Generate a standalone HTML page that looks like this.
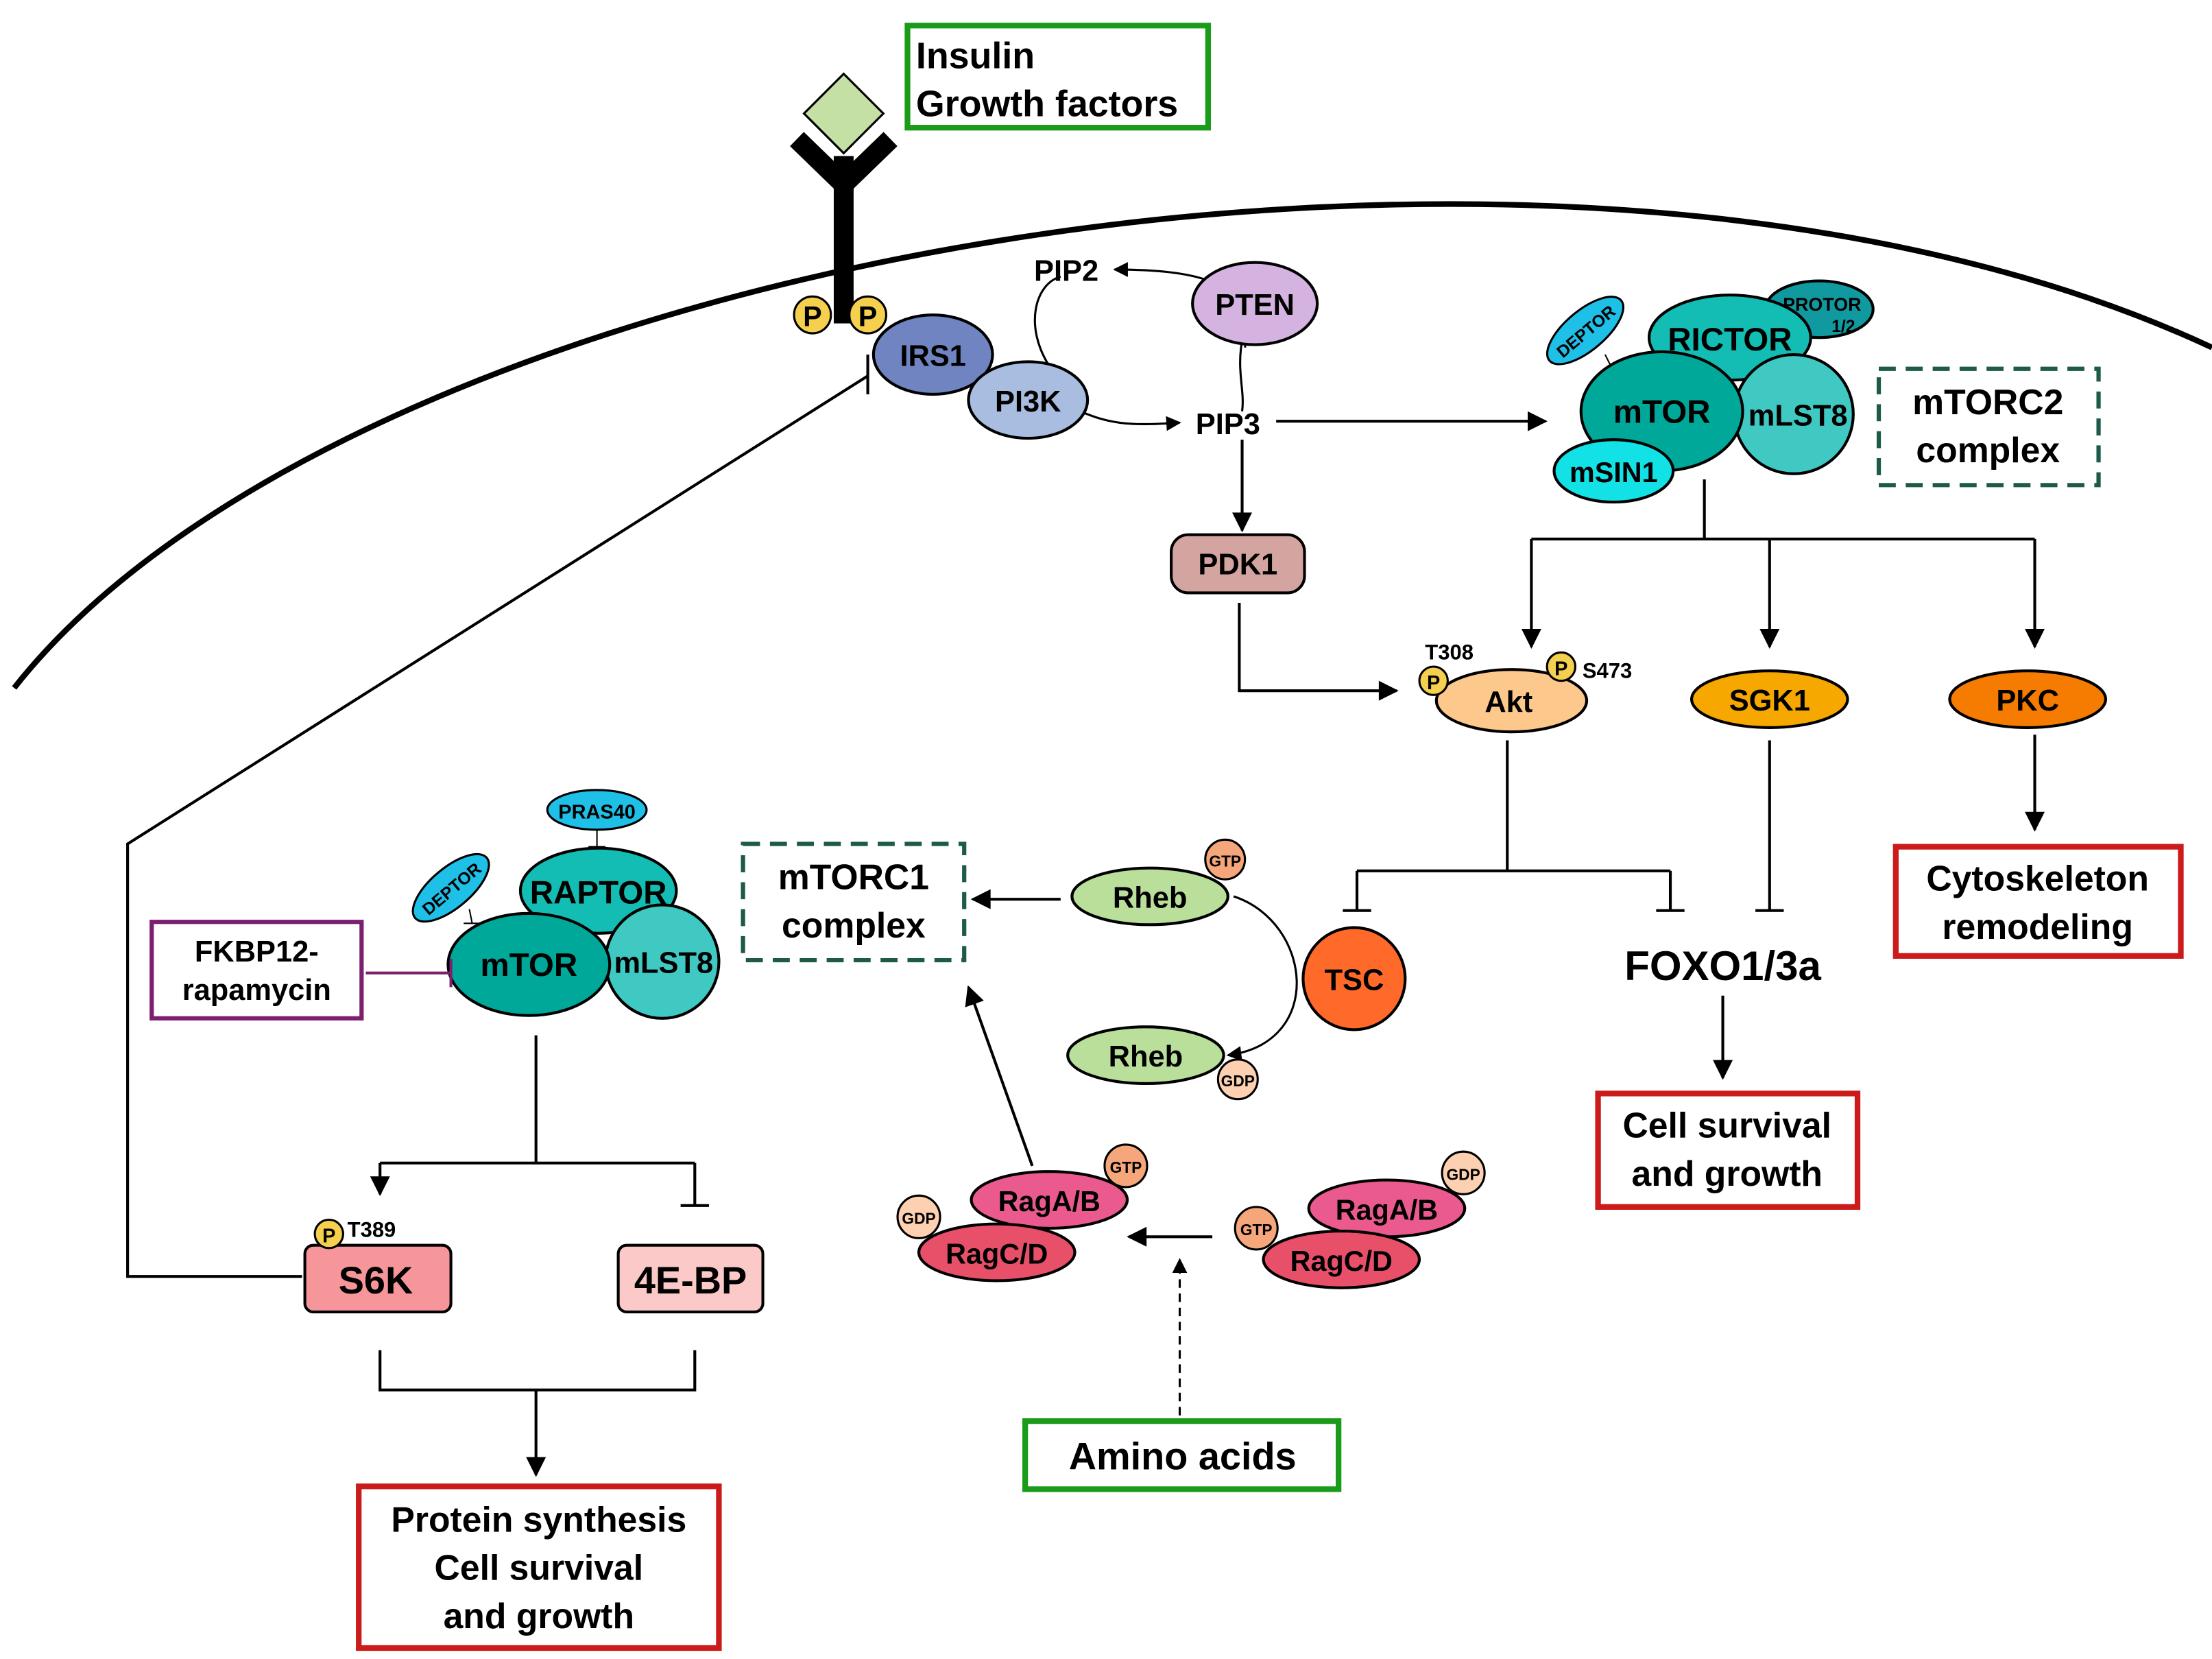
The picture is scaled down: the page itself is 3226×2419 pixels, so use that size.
<!DOCTYPE html>
<html><head><meta charset="utf-8"><style>
html,body{margin:0;padding:0;background:#fff}
svg{display:block}
text{font-family:"Liberation Sans",Arial,sans-serif;font-weight:bold;fill:#000}
</style></head><body>
<svg width="3226" height="2419" viewBox="0 0 1560 1169.7" xmlns="http://www.w3.org/2000/svg">
<defs>
<marker id="a" viewBox="0 0 10 10" refX="9" refY="5" markerWidth="7.5" markerHeight="7" orient="auto"><path d="M0,0 L10,5 L0,10 z" fill="#000"/></marker>
</defs>
<rect width="1560" height="1170" fill="#fff"/>
<path d="M10,485 C 250,180 1100,30 1560,245" fill="none" stroke="#000" stroke-width="4"/>
<rect x="588" y="110" width="14" height="118" fill="#000"/>
<path d="M595,130 L562,98 M595,130 L628,98" stroke="#000" stroke-width="14" fill="none"/>
<path d="M595,52 L623,80 L595,108 L567,80 z" fill="#c5e0a5" stroke="#000" stroke-width="1.5"/>
<circle cx="573" cy="222" r="13" fill="#f5d04f" stroke="#000" stroke-width="1.5"/><text x="573" y="230" font-size="20" text-anchor="middle">P</text>
<circle cx="612" cy="222" r="13" fill="#f5d04f" stroke="#000" stroke-width="1.5"/><text x="612" y="230" font-size="20" text-anchor="middle">P</text>
<rect x="640" y="18" width="212" height="72" fill="none" stroke="#1a9c1a" stroke-width="4"/>
<text x="646" y="48" font-size="26">Insulin</text><text x="646" y="82" font-size="26">Growth factors</text>
<path d="M740,258 C 722,230 730,200 748,195" fill="none" stroke="#000" stroke-width="1.5"/>
<path d="M878,245 C 885,205 860,190 786,190" fill="none" stroke="#000" stroke-width="1.5" marker-end="url(#a)"/>
<path d="M876,240 C 872,262 878,275 876,290" fill="none" stroke="#000" stroke-width="1.5"/>
<path d="M762,290 C 785,300 800,300 832,298" fill="none" stroke="#000" stroke-width="1.5" marker-end="url(#a)"/>
<ellipse cx="658" cy="250" rx="42" ry="28" fill="#6f84c0" stroke="#000" stroke-width="2"/><text x="658" y="258" font-size="21" text-anchor="middle">IRS1</text>
<ellipse cx="725" cy="282" rx="42" ry="27" fill="#a9bde0" stroke="#000" stroke-width="2"/><text x="725" y="290" font-size="21" text-anchor="middle">PI3K</text>
<ellipse cx="885" cy="214" rx="44" ry="29" fill="#d5b3e0" stroke="#000" stroke-width="2"/><text x="885" y="222" font-size="21" text-anchor="middle">PTEN</text>
<text x="752" y="198" font-size="21" text-anchor="middle">PIP2</text>
<text x="866" y="306" font-size="21" text-anchor="middle">PIP3</text>
<line x1="900" y1="297" x2="1090" y2="297" stroke="#000" stroke-width="2" marker-end="url(#a)"/>
<line x1="876" y1="310" x2="876" y2="374" stroke="#000" stroke-width="2" marker-end="url(#a)"/>
<rect x="826" y="377" width="94" height="41" rx="12" fill="#d4a5a0" stroke="#000" stroke-width="2"/><text x="873" y="405" font-size="21" text-anchor="middle">PDK1</text>
<path d="M874,425 L874,487 L985,487" fill="none" stroke="#000" stroke-width="2" marker-end="url(#a)"/>
<path d="M1202,338 L1202,380 M1080,380 L1435,380" stroke="#000" stroke-width="2" fill="none"/>
<line x1="1080" y1="380" x2="1080" y2="456" stroke="#000" stroke-width="2" marker-end="url(#a)"/>
<line x1="1248" y1="380" x2="1248" y2="456" stroke="#000" stroke-width="2" marker-end="url(#a)"/>
<line x1="1435" y1="380" x2="1435" y2="456" stroke="#000" stroke-width="2" marker-end="url(#a)"/>
<ellipse cx="1283" cy="218" rx="38" ry="20" fill="#1199a0" stroke="#000" stroke-width="2"/>
<text x="1285" y="219" font-size="13" text-anchor="middle">PROTOR</text><text x="1300" y="234" font-size="12" text-anchor="middle">1/2</text>
<ellipse cx="1220" cy="238" rx="57" ry="30" fill="#13bdb3" stroke="#000" stroke-width="2"/><text x="1220" y="247" font-size="23" text-anchor="middle">RICTOR</text>
<g transform="translate(1118,233) rotate(-40)"><ellipse rx="33" ry="14" fill="#1ec0e8" stroke="#000" stroke-width="1.5"/><text y="5" font-size="12" text-anchor="middle">DEPTOR</text></g>
<path d="M1132,250 L1138,262 M1132,262 L1144,258" stroke="#000" stroke-width="1"/>
<ellipse cx="1265" cy="292" rx="42" ry="42" fill="#40c8c2" stroke="#000" stroke-width="2"/>
<ellipse cx="1172" cy="290" rx="57" ry="42" fill="#00a89a" stroke="#000" stroke-width="2"/><text x="1172" y="298" font-size="23" text-anchor="middle">mTOR</text>
<text x="1268" y="300" font-size="21" text-anchor="middle">mLST8</text>
<ellipse cx="1138" cy="332" rx="42" ry="22" fill="#12e2e6" stroke="#000" stroke-width="2"/><text x="1138" y="340" font-size="20" text-anchor="middle">mSIN1</text>
<rect x="1325" y="260" width="155" height="82" fill="none" stroke="#1c5a4a" stroke-width="3" stroke-dasharray="12,7"/>
<text x="1402" y="292" font-size="25" text-anchor="middle">mTORC2</text><text x="1402" y="326" font-size="25" text-anchor="middle">complex</text>
<ellipse cx="1066" cy="494" rx="53" ry="22" fill="#fcc88c" stroke="#000" stroke-width="2"/><text x="1064" y="502" font-size="21" text-anchor="middle">Akt</text>
<circle cx="1011" cy="480" r="10" fill="#f5d04f" stroke="#000" stroke-width="1.5"/><text x="1011" y="486" font-size="14" text-anchor="middle">P</text>
<text x="1005" y="465" font-size="15">T308</text>
<circle cx="1101" cy="470" r="10" fill="#f5d04f" stroke="#000" stroke-width="1.5"/><text x="1101" y="476" font-size="14" text-anchor="middle">P</text>
<text x="1116" y="478" font-size="15">S473</text>
<ellipse cx="1248" cy="493" rx="55" ry="20" fill="#f7a800" stroke="#000" stroke-width="2"/><text x="1248" y="501" font-size="21" text-anchor="middle">SGK1</text>
<ellipse cx="1430" cy="493" rx="55" ry="20" fill="#f57c00" stroke="#000" stroke-width="2"/><text x="1430" y="501" font-size="21" text-anchor="middle">PKC</text>
<path d="M1063,522 L1063,614 M957,614 L1178,614 M957,614 L957,642 M1178,614 L1178,642 M947,642 L967,642 M1168,642 L1188,642" stroke="#000" stroke-width="2" fill="none"/>
<path d="M1248,522 L1248,642 M1238,642 L1258,642" stroke="#000" stroke-width="2" fill="none"/>
<line x1="1435" y1="518" x2="1435" y2="585" stroke="#000" stroke-width="2" marker-end="url(#a)"/>
<rect x="1337" y="597" width="201" height="77" fill="none" stroke="#cc1b1b" stroke-width="4"/>
<text x="1437" y="628" font-size="25" text-anchor="middle">Cytoskeleton</text><text x="1437" y="662" font-size="25" text-anchor="middle">remodeling</text>
<text x="1215" y="691" font-size="29" text-anchor="middle">FOXO1/3a</text>
<line x1="1215" y1="702" x2="1215" y2="760" stroke="#000" stroke-width="2" marker-end="url(#a)"/>
<rect x="1127" y="771" width="183" height="80" fill="none" stroke="#cc1b1b" stroke-width="4"/>
<text x="1218" y="802" font-size="25" text-anchor="middle">Cell survival</text><text x="1218" y="836" font-size="25" text-anchor="middle">and growth</text>
<path d="M870,632 C 925,650 935,735 866,744" fill="none" stroke="#000" stroke-width="1.5" marker-end="url(#a)"/>
<circle cx="955" cy="690" r="36" fill="#ff6a2a" stroke="#000" stroke-width="2"/><text x="955" y="698" font-size="21" text-anchor="middle">TSC</text>
<ellipse cx="811" cy="632" rx="55" ry="20" fill="#b9df9a" stroke="#000" stroke-width="2"/><text x="811" y="640" font-size="21" text-anchor="middle">Rheb</text>
<circle cx="864" cy="606" r="14" fill="#f5a67a" stroke="#000" stroke-width="1.5"/><text x="864" y="611" font-size="11" text-anchor="middle">GTP</text>
<ellipse cx="808" cy="744" rx="55" ry="20" fill="#b9df9a" stroke="#000" stroke-width="2"/><text x="808" y="752" font-size="21" text-anchor="middle">Rheb</text>
<circle cx="873" cy="761" r="14" fill="#fcd0b0" stroke="#000" stroke-width="1.5"/><text x="873" y="766" font-size="11" text-anchor="middle">GDP</text>
<line x1="748" y1="634" x2="686" y2="634" stroke="#000" stroke-width="2" marker-end="url(#a)"/>
<rect x="524" y="595" width="156" height="82" fill="none" stroke="#1c5a4a" stroke-width="3" stroke-dasharray="12,7"/>
<text x="602" y="627" font-size="25" text-anchor="middle">mTORC1</text><text x="602" y="661" font-size="25" text-anchor="middle">complex</text>
<line x1="728" y1="822" x2="683" y2="696" stroke="#000" stroke-width="2" marker-end="url(#a)"/>
<ellipse cx="740" cy="846" rx="55" ry="20" fill="#ea5a8e" stroke="#000" stroke-width="2"/><text x="740" y="854" font-size="20" text-anchor="middle">RagA/B</text>
<circle cx="794" cy="822" r="15" fill="#f5a67a" stroke="#000" stroke-width="1.5"/><text x="794" y="827" font-size="11" text-anchor="middle">GTP</text>
<circle cx="648" cy="858" r="15" fill="#fcd0b0" stroke="#000" stroke-width="1.5"/><text x="648" y="863" font-size="11" text-anchor="middle">GDP</text>
<ellipse cx="703" cy="883" rx="55" ry="20" fill="#e8506a" stroke="#000" stroke-width="2"/><text x="703" y="891" font-size="20" text-anchor="middle">RagC/D</text>
<ellipse cx="978" cy="852" rx="55" ry="20" fill="#ea5a8e" stroke="#000" stroke-width="2"/><text x="978" y="860" font-size="20" text-anchor="middle">RagA/B</text>
<circle cx="1032" cy="827" r="15" fill="#fcd0b0" stroke="#000" stroke-width="1.5"/><text x="1032" y="832" font-size="11" text-anchor="middle">GDP</text>
<circle cx="886" cy="866" r="15" fill="#f5a67a" stroke="#000" stroke-width="1.5"/><text x="886" y="871" font-size="11" text-anchor="middle">GTP</text>
<ellipse cx="946" cy="888" rx="55" ry="20" fill="#e8506a" stroke="#000" stroke-width="2"/><text x="946" y="896" font-size="20" text-anchor="middle">RagC/D</text>
<line x1="855" y1="872" x2="796" y2="872" stroke="#000" stroke-width="2" marker-end="url(#a)"/>
<line x1="832" y1="998" x2="832" y2="888" stroke="#000" stroke-width="1.5" stroke-dasharray="6,4" marker-end="url(#a)"/>
<rect x="723" y="1002" width="221" height="48" fill="none" stroke="#1a9c1a" stroke-width="4"/>
<text x="834" y="1036" font-size="27" text-anchor="middle">Amino acids</text>
<ellipse cx="421" cy="571" rx="35" ry="14" fill="#1ec0e8" stroke="#000" stroke-width="1.5"/><text x="421" y="577" font-size="14" text-anchor="middle">PRAS40</text>
<path d="M421,585 L421,597 M415,597 L427,597" stroke="#000" stroke-width="1"/>
<ellipse cx="422" cy="628" rx="55" ry="30" fill="#13bdb3" stroke="#000" stroke-width="2"/><text x="422" y="637" font-size="23" text-anchor="middle">RAPTOR</text>
<g transform="translate(318,626) rotate(-40)"><ellipse rx="33" ry="14" fill="#1ec0e8" stroke="#000" stroke-width="1.5"/><text y="5" font-size="12" text-anchor="middle">DEPTOR</text></g>
<path d="M331,641 L333,651 M327,651 L339,651" stroke="#000" stroke-width="1"/>
<ellipse cx="467" cy="678" rx="40" ry="40" fill="#40c8c2" stroke="#000" stroke-width="2"/>
<ellipse cx="373" cy="680" rx="57" ry="36" fill="#00a89a" stroke="#000" stroke-width="2"/><text x="373" y="688" font-size="23" text-anchor="middle">mTOR</text>
<text x="468" y="686" font-size="21" text-anchor="middle">mLST8</text>
<rect x="107" y="650" width="148" height="68" fill="none" stroke="#7b1f6e" stroke-width="3"/>
<text x="181" y="678" font-size="21" text-anchor="middle">FKBP12-</text><text x="181" y="705" font-size="21" text-anchor="middle">rapamycin</text>
<path d="M258,686 L318,686 M318,676 L318,696" stroke="#7b1f6e" stroke-width="2" fill="none"/>
<path d="M378,730 L378,820 M268,820 L490,820 M490,820 L490,850 M480,850 L500,850" stroke="#000" stroke-width="2" fill="none"/>
<line x1="268" y1="820" x2="268" y2="842" stroke="#000" stroke-width="2" marker-end="url(#a)"/>
<rect x="215" y="878" width="103" height="47" rx="6" fill="#f7969a" stroke="#000" stroke-width="2"/><text x="265" y="912" font-size="27" text-anchor="middle">S6K</text>
<circle cx="232" cy="870" r="10" fill="#f5d04f" stroke="#000" stroke-width="1.5"/><text x="232" y="876" font-size="14" text-anchor="middle">P</text>
<text x="245" y="872" font-size="15">T389</text>
<rect x="436" y="878" width="102" height="47" rx="6" fill="#fbc9c8" stroke="#000" stroke-width="2"/><text x="487" y="912" font-size="27" text-anchor="middle">4E-BP</text>
<path d="M213,900 L90,900 L90,595 L612,265 M612,250 L612,278" stroke="#000" stroke-width="2" fill="none"/>
<path d="M268,952 L268,980 L490,980 L490,952" stroke="#000" stroke-width="2" fill="none"/>
<line x1="378" y1="980" x2="378" y2="1040" stroke="#000" stroke-width="2" marker-end="url(#a)"/>
<rect x="253" y="1048" width="254" height="114" fill="none" stroke="#cc1b1b" stroke-width="4"/>
<text x="380" y="1080" font-size="25" text-anchor="middle">Protein synthesis</text>
<text x="380" y="1114" font-size="25" text-anchor="middle">Cell survival</text>
<text x="380" y="1148" font-size="25" text-anchor="middle">and growth</text>
</svg>
</body></html>
